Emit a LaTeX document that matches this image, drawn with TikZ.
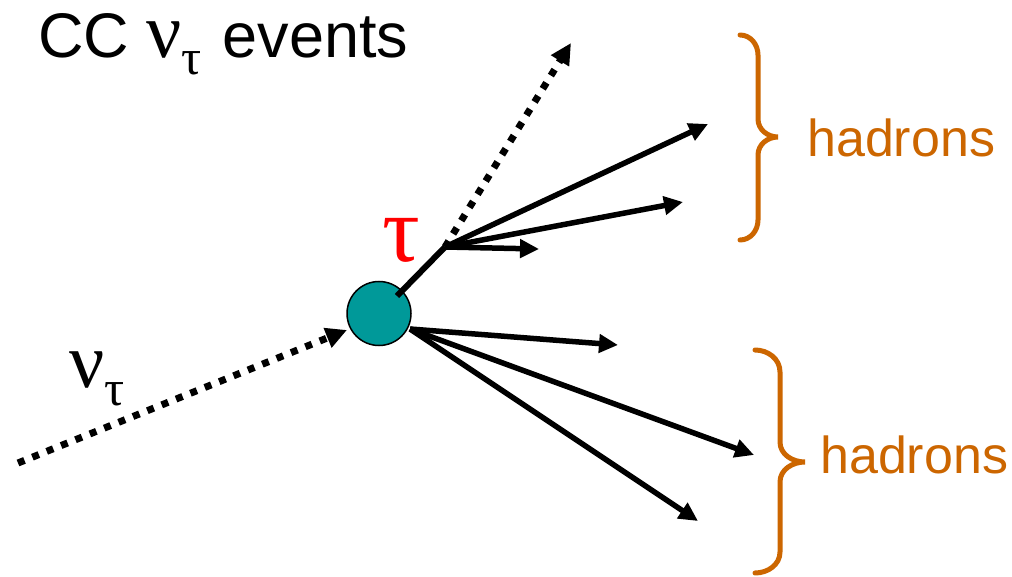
\documentclass[tikz,border=0pt]{standalone}
\usepackage{fontspec}
\setmainfont{Liberation Sans}
\newfontfamily\grk{Liberation Serif}
\usetikzlibrary{arrows.meta}
\definecolor{teal1}{HTML}{009999}
\definecolor{brorange}{HTML}{CC6600}
\tikzset{
  track/.style={line width=5.5pt, -{Triangle[length=19pt,width=18pt]}},
  dottrack/.style={line width=7pt, dash pattern=on 7pt off 8.5pt, -{Triangle[length=21pt,width=20pt]}},
  brace/.style={brorange, line width=5pt, line cap=round},
  hlabel/.style={brorange, anchor=base west, inner sep=0pt, font=\fontsize{52}{52}\selectfont},
}
\begin{document}
\begin{tikzpicture}[x=1pt,y=-1pt]
\useasboundingbox (0,0) rectangle (1012,577);
\fill[white] (0,0) rectangle (1012,577);

% title
\node[anchor=base west, inner sep=0pt] (title) at (38,58)
  {\fontsize{63}{63}\selectfont CC {\grk\fontsize{78}{78}\selectfont ν}\raisebox{-17pt}{\fontsize{50}{50}\selectfont\grk τ}\hspace{3pt} events};

% interaction vertex
\node[circle, draw=black, line width=1.5pt, fill=teal1, minimum size=64pt, inner sep=0pt] (v) at (379,313.5) {};

% coordinates
\coordinate (nustart) at (18,463);
\coordinate (nuend) at (347,330);
\coordinate (tstart) at (397,296);
\coordinate (d) at (445,247);
\coordinate (nuout) at (571,43);
\coordinate (h1) at (708,124);
\coordinate (h2) at (683,202);
\coordinate (h3) at (539,249);
\coordinate (vout) at (410,329);
\coordinate (h4) at (618,345);
\coordinate (h5) at (754,455);
\coordinate (h6) at (698,521);

% incoming neutrino
\draw[dottrack] (nustart) -- (nuend);
\node[anchor=base west, inner sep=0pt] (nulabel) at (69,387)
  {\grk\fontsize{78}{78}\selectfont ν\raisebox{-18pt}{\fontsize{50}{50}\selectfont τ}};

% tau track
\draw[line width=6pt] (tstart) -- (d);
\node[anchor=base west, inner sep=0pt, text=red] (taulabel) at (382,262)
  {\fontsize{94}{94}\selectfont\grk τ};

% tau decay
\draw[dottrack] (d) -- (nuout);
\draw[track] (d) -- (h1);
\draw[track] (d) -- (h2);
\draw[track] (d) -- (h3);

% hadrons from vertex
\draw[track] (vout) -- (h4);
\draw[track] (vout) -- (h5);
\draw[track] (vout) -- (h6);

% braces
\draw[brace] (740,35) to[out=0,in=90] (758,55) -- (758,119) to[out=-90,in=180] (778,137)
  to[out=180,in=90] (758,155) -- (758,220) to[out=-90,in=0] (740,240);
\node[hlabel] (had1) at (807,157) {hadrons};

\draw[brace] (755,350) to[out=0,in=90] (780,372) -- (780,442) to[out=-90,in=180] (805,462)
  to[out=180,in=90] (780,482) -- (780,552) to[out=-90,in=0] (755,573);
\node[hlabel] (had2) at (820,473) {hadrons};
\end{tikzpicture}
\end{document}
